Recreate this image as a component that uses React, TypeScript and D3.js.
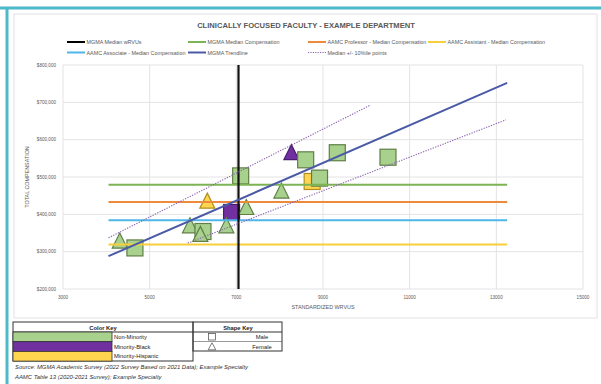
import React from "react";
import * as d3 from "d3";

// ---- data ----
const xTicks = [3000, 5000, 7000, 9000, 11000, 13000, 15000];
const yTicks = [200000, 300000, 400000, 500000, 600000, 700000, 800000];

const medianWrvus = 7050;
// horizontal reference lines: name, value
const refNames = ["MGMA Median Compensation", "AAMC Professor - Median Compensation", "AAMC Associate - Median Compensation", "AAMC Assistant - Median Compensation"];
const refValues = [479000, 433000, 384000, 319000];
const refColors = ["#7cb354", "#ee8a3c", "#4fb6ea", "#f7cf3a"];
const refSpan = [4050, 13250];

// trendline + percentile lines [x0, y0, x1, y1]
const trendLine = [4050, 288000, 13250, 752000];
const upperLine = [4050, 337000, 10100, 693000];
const lowerLine = [5880, 323000, 13220, 653000];

// faculty points
const ptWrvus = [4310, 4660, 5930, 6230, 6170, 6330, 6890, 6770, 7230, 7100, 8040, 8270, 8600, 8750, 8920, 9330, 10500];
const ptComp = [327000, 310000, 368000, 354000, 345000, 434000, 405000, 368000, 417000, 503000, 461000, 564000, 546000, 488000, 497000, 565000, 553000];
const ptGroup = ["N", "N", "N", "N", "N", "H", "B", "N", "N", "N", "N", "B", "N", "H", "N", "N", "N"];
const ptGender = ["F", "M", "F", "M", "F", "F", "M", "F", "F", "M", "F", "F", "M", "M", "M", "M", "M"];

const groupNames = ["Non-Minority", "Minority-Black", "Minority-Hispanic"];
const groupKeys = ["N", "B", "H"];
const groupFill: Record<string, string> = { N: "#a9d18e", B: "#7030a0", H: "#ffd54f" };
const groupStroke: Record<string, string> = { N: "#5f7f45", B: "#4b1f70", H: "#b08f20" };

const legendRow1 = [
  { label: "MGMA Median wRVUs", color: "#000", dash: "" },
  { label: "MGMA Median Compensation", color: "#7cb354", dash: "" },
  { label: "AAMC Professor - Median Compensation", color: "#ee8a3c", dash: "" },
  { label: "AAMC Assistant - Median Compensation", color: "#f7cf3a", dash: "" },
];
const legendRow2 = [
  { label: "AAMC Associate - Median Compensation", color: "#4fb6ea", dash: "" },
  { label: "MGMA Trendline", color: "#4a5aa6", dash: "" },
  { label: "Median +/- 10%ile points", color: "#8a62b0", dash: "1.2,1.2" },
];

const FONT = "'Liberation Sans', Arial, sans-serif";

export default function App() {
  const x = d3.scaleLinear().domain([3000, 15000]).range([63, 583]);
  const y = d3.scaleLinear().domain([200000, 800000]).range([289, 65]);
  const fmt = d3.format("$,");
  const legendCols = [67, 188, 308, 428];
  const sq = 16;

  const line = (l: number[], color: string, w: number, dash = "") => (
    <line x1={x(l[0])} y1={y(l[1])} x2={x(l[2])} y2={y(l[3])} stroke={color} strokeWidth={w} strokeDasharray={dash} />
  );

  return (
    <svg width={601} height={384} style={{ position: "absolute", left: 0, top: 0, background: "#fff" }} fontFamily={FONT}>
      {/* teal frame */}
      <line x1={0} y1={8} x2={601} y2={8} stroke="#4cbac8" strokeWidth={3} />
      <line x1={7} y1={8} x2={7} y2={384} stroke="#4cbac8" strokeWidth={3} />
      <rect x={14} y={14} width={583} height={304} fill="#fff" stroke="#e2e2e2" strokeWidth={1} />

      <text x={306} y={28} textAnchor="middle" fontSize={7.6} fontWeight="bold" fill="#595959">
        CLINICALLY FOCUSED FACULTY - EXAMPLE DEPARTMENT
      </text>

      {/* legend */}
      {[legendRow1, legendRow2].map((row, ri) =>
        row.map((it, i) => (
          <g key={`${ri}-${i}`} transform={`translate(${legendCols[i]},${42 + ri * 10.5})`}>
            <line x1={0} x2={18} y1={0} y2={0} stroke={it.color} strokeWidth={it.dash ? 1 : 2} strokeDasharray={it.dash} />
            <text x={19.5} y={2} fontSize={5.4} fill="#595959">{it.label}</text>
          </g>
        ))
      )}

      {/* grid */}
      {xTicks.map((t) => (
        <line key={"gx" + t} x1={x(t)} x2={x(t)} y1={y(800000)} y2={y(200000)} stroke="#e3e3e3" strokeWidth={1} />
      ))}
      {yTicks.map((t) => (
        <line key={"gy" + t} x1={x(3000)} x2={x(15000)} y1={y(t)} y2={y(t)} stroke="#e3e3e3" strokeWidth={1} />
      ))}
      {yTicks.map((t) => (
        <text key={"ty" + t} x={56} y={y(t) + 1.6} textAnchor="end" fontSize={4.6} fill="#595959">{fmt(t)}</text>
      ))}
      {xTicks.map((t) => (
        <text key={"tx" + t} x={x(t)} y={299} textAnchor="middle" fontSize={4.6} fill="#595959">{t}</text>
      ))}
      <text x={323} y={309} textAnchor="middle" fontSize={5.4} fill="#595959">STANDARDIZED WRVUS</text>
      <text transform={`translate(29,${y(500000)}) rotate(-90)`} textAnchor="middle" fontSize={5.4} fill="#595959">TOTAL COMPENSATION</text>

      {/* markers */}
      {ptWrvus.map((w, i) => {
        const cx = x(w);
        const cy = y(ptComp[i]);
        const g = ptGroup[i];
        if (ptGender[i] === "M") {
          return <rect key={"p" + i} x={cx - sq / 2} y={cy - sq / 2} width={sq} height={sq} fill={groupFill[g]} stroke={groupStroke[g]} strokeWidth={1.2} />;
        }
        const h = 15;
        return (
          <path key={"p" + i} d={`M${cx},${cy - h / 2 - 1}L${cx + 7.5},${cy + h / 2 - 1}L${cx - 7.5},${cy + h / 2 - 1}Z`} fill={groupFill[g]} stroke={groupStroke[g]} strokeWidth={1.2} />
        );
      })}

      {/* reference lines */}
      {refValues.map((v, i) => (
        <line key={refNames[i]} x1={x(refSpan[0])} x2={x(refSpan[1])} y1={y(v)} y2={y(v)} stroke={refColors[i]} strokeWidth={2} />
      ))}
      <line x1={x(medianWrvus)} x2={x(medianWrvus)} y1={y(800000)} y2={y(200000)} stroke="#111" strokeWidth={2.2} />
      {line(trendLine, "#4a5aa6", 2)}
      {line(upperLine, "#8a62b0", 1.1, "1.3,1.3")}
      {line(lowerLine, "#8a62b0", 1.1, "1.3,1.3")}

      {/* color key table */}
      <g fontSize={5.8} fill="#222">
        <rect x={13} y={322} width={180} height={39} fill="none" stroke="#333" strokeWidth={1} />
        <line x1={13} x2={193} y1={332} y2={332} stroke="#333" />
        <text x={103} y={329.5} textAnchor="middle" fontWeight="bold" fontSize={5.8}>Color Key</text>
        {groupKeys.map((k, i) => (
          <g key={k}>
            <rect x={13} y={332 + i * 9.7} width={99} height={9.7} fill={groupFill[k]} stroke="#333" strokeWidth={0.8} />
            <text x={114} y={339 + i * 9.7} fontSize={5.8}>{groupNames[i]}</text>
          </g>
        ))}
        <rect x={193} y={322} width={89} height={29} fill="none" stroke="#333" strokeWidth={1} />
        <line x1={193} x2={282} y1={332} y2={332} stroke="#333" />
        <line x1={193} x2={282} y1={341.5} y2={341.5} stroke="#333" strokeWidth={0.5} />
        <text x={238} y={329.5} textAnchor="middle" fontWeight="bold" fontSize={5.8}>Shape Key</text>
        <rect x={208.5} y={333.5} width={7} height={6.5} fill="#fff" stroke="#444" strokeWidth={0.7} />
        <path d="M212,342.8L215.8,349.8L208.2,349.8Z" fill="#fff" stroke="#444" strokeWidth={0.7} />
        <text x={262} y={339} textAnchor="middle" fontSize={5.8}>Male</text>
        <text x={262} y={348.5} textAnchor="middle" fontSize={5.8}>Female</text>
      </g>

      <g fontSize={5.9} fontStyle="italic" fill="#333">
        <text x={15} y={369}>Source:  MGMA Academic Survey (2022 Survey Based on 2021 Data); Example Specialty</text>
        <text x={15} y={378.5}>AAMC Table 13 (2020-2021 Survey); Example Specialty</text>
      </g>
    </svg>
  );
}
